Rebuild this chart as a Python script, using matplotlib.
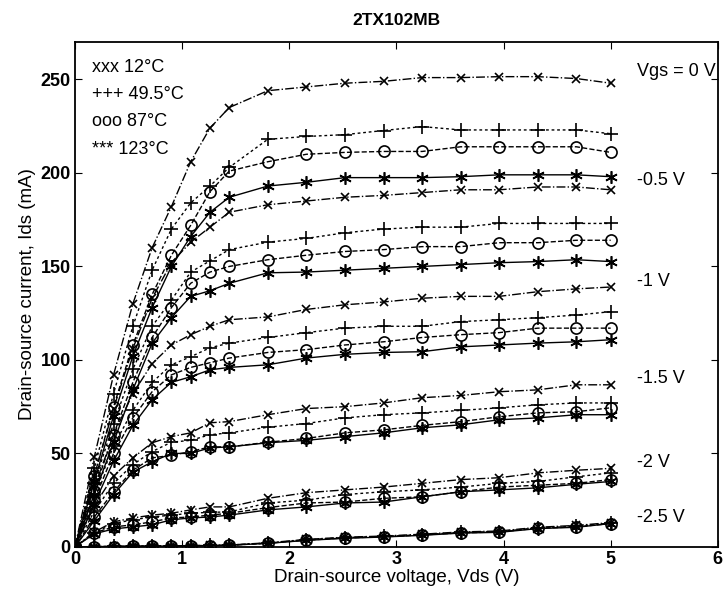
import matplotlib.pyplot as plt
import numpy as np

plt.rcParams['font.family'] = ['Liberation Sans', 'DejaVu Sans']

# measured Vds points (V)
vds = [0, 0.18, 0.36, 0.54, 0.72, 0.9, 1.08, 1.26, 1.44, 1.8, 2.16, 2.52,
       2.88, 3.24, 3.6, 3.96, 4.32, 4.68, 5.0]

temps = ['12°C', '49.5°C', '87°C', '123°C']
vgs_labels = ['Vgs = 0 V', '-0.5 V', '-1 V', '-1.5 V', '-2 V', '-2.5 V']
label_y = [254, 196, 142, 90, 45, 15.5]

# Ids (mA) per Vgs, per temperature
ids_vgs0 = [
    [0, 48, 92, 130, 160, 182, 206, 224, 235, 244, 246, 248, 249, 251, 251, 251.5, 251.5, 250.5, 248],
    [0, 42, 82, 118, 148, 170, 184, 193, 203, 218, 219.5, 220.5, 222.7, 224.8, 223, 223, 223, 223, 221],
    [0, 38, 75, 108, 135, 156, 172, 190, 201, 206, 210, 211, 211.5, 211.5, 214, 214, 214, 214, 211],
    [0, 35, 70, 102, 128, 150, 166, 179, 187, 193, 195, 197.5, 197.5, 197.5, 198, 199, 199, 199, 198],
]
ids_vgs05 = [
    [0, 38, 74, 106, 133, 152, 163, 171, 179, 183, 185, 187, 188, 189.5, 191, 191, 192.5, 192.5, 191],
    [0, 34, 66, 95, 118, 132, 147, 153, 159, 163, 165, 168, 170, 171, 171, 173, 173, 173, 173],
    [0, 30, 60, 88, 112, 128, 141, 147, 150, 153.6, 156, 158, 159, 160.6, 160.6, 162.7, 162.7, 164, 164],
    [0, 28, 56, 84, 109, 122.6, 134, 137, 141, 146.6, 147, 148, 149, 150, 151, 152, 152.6, 153.6, 152.6],
]
ids_vgs1 = [
    [0, 32, 60, 82, 98, 108, 113.5, 118, 121.5, 123, 127, 129.5, 131, 133, 134, 134, 136.5, 138, 139],
    [0, 28, 54, 73, 88, 97.4, 101.7, 106.5, 109, 112, 114.6, 117, 118, 118, 120.5, 121.5, 122.6, 124, 125.8],
    [0, 25, 50, 69, 83, 92, 96, 98.5, 101, 104, 105.5, 108, 109.7, 112, 113.5, 114.6, 117, 117, 117],
    [0, 23, 46, 65, 78.7, 88, 91, 94.7, 96, 97.4, 101, 103, 104, 104.4, 107, 108, 109, 109.7, 110.8],
]
ids_vgs15 = [
    [0, 22, 38, 47.6, 55.7, 59, 61, 66.4, 67, 70.7, 74, 75, 77, 79.8, 81, 83, 84, 86.7, 86.7],
    [0, 19, 34, 44, 51, 56, 57, 60, 61, 64, 66, 69, 70.7, 71.7, 73, 74.4, 76, 77, 77],
    [0, 16, 29.5, 41, 47.6, 49, 51, 53.5, 53.5, 56, 58, 61, 62.6, 65, 67, 69.6, 71.7, 72.3, 74.4],
    [0, 14, 28, 40, 45.5, 50, 50, 53, 53.5, 55.7, 57, 59, 61, 63.7, 65.3, 68, 69, 70.7, 70.7],
]
ids_vgs2 = [
    [0, 8, 13.4, 15.5, 17, 18, 19.8, 21.4, 21.4, 26, 29, 30.5, 32, 34, 36, 37, 39.6, 41, 42],
    [0, 7.5, 12.5, 14.5, 16, 17, 18, 18.5, 18.7, 23.5, 25, 28, 29.5, 30.5, 32, 34, 35, 37.5, 39.6],
    [0, 7.5, 10.7, 11.8, 13.4, 15.5, 16, 17, 18, 21, 23.5, 24, 26, 26.8, 29.5, 32, 33, 34, 36],
    [0, 7, 9.6, 10.7, 11.8, 14.5, 15.5, 16, 17, 19.8, 21.4, 23.5, 24, 26.8, 29.5, 30.5, 31.6, 33.5, 35],
]
ids_vgs25 = [
    [0, 0.2, 0.3, 0.4, 0.5, 0.6, 0.7, 0.8, 1, 2.2, 4, 5.2, 5.8, 6.8, 8, 8.5, 10.5, 11.5, 13],
    [0, 0.2, 0.3, 0.4, 0.5, 0.6, 0.7, 0.8, 1, 2, 3.8, 5, 5.6, 6.5, 7.8, 8.2, 10.2, 11, 12.8],
    [0, 0.1, 0.2, 0.3, 0.4, 0.5, 0.6, 0.7, 0.9, 2, 3.6, 4.8, 5.4, 6.4, 7.5, 8, 10, 10.7, 12.5],
    [0, 0.1, 0.2, 0.3, 0.4, 0.5, 0.6, 0.7, 0.9, 1.9, 3.5, 4.6, 5.3, 6.2, 7.4, 7.8, 9.8, 10.5, 12.5],
]
all_ids = [ids_vgs0, ids_vgs05, ids_vgs1, ids_vgs15, ids_vgs2, ids_vgs25]

# style per temperature (matlab-like asterisk for 123C)
markers = ['x', '+', 'o', (6, 2, 0)]
msizes = [5.5, 10, 8, 9]
lstyles = ['-.', (0, (2, 2)), '--', '-']

fig = plt.figure(figsize=(7.28, 6.01), dpi=100)
ax = fig.add_axes([0.103, 0.09, 0.883, 0.84])

for curves in all_ids:
    for k in range(4):
        ax.plot(vds, curves[k], color='black', linestyle=lstyles[k], linewidth=1.0,
                marker=markers[k], markersize=msizes[k], markerfacecolor='none',
                markeredgecolor='black', markeredgewidth=1.2)

for lab, yy in zip(vgs_labels, label_y):
    ax.text(5.25, yy, lab, fontsize=13, va='center', ha='left')

# temperature key in upper left
key = ['xxx 12°C', '+++ 49.5°C', 'ooo 87°C', '*** 123°C']
for i, t in enumerate(key):
    ax.text(0.027, 0.95 - i * 0.054, t, transform=ax.transAxes, fontsize=13,
            va='center', ha='left')

ax.set_xlim(0, 6)
ax.set_ylim(0, 270)
ax.set_xticks(range(0, 7))
ax.set_yticks(range(0, 251, 50))
ax.tick_params(direction='in', top=True, right=True, length=5, labelsize=13, pad=3)
for lbl in ax.get_xticklabels() + ax.get_yticklabels():
    lbl.set_fontweight('bold')
for sp in ax.spines.values():
    sp.set_linewidth(1.3)

ax.set_title('2TX102MB', fontsize=12.5, fontweight='bold', pad=12)
ax.set_xlabel('Drain-source voltage, Vds (V)', fontsize=13.5, labelpad=1)
ax.set_ylabel('Drain-source current, Ids (mA)', fontsize=13.5, labelpad=3)

plt.savefig('out.png', dpi=100)
